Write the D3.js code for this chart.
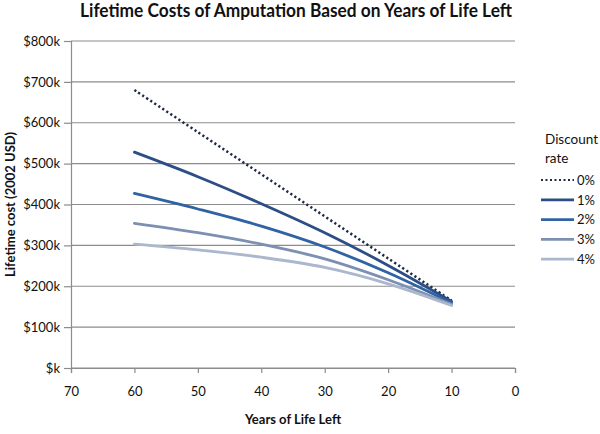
<!DOCTYPE html>
<html>
<head>
<meta charset="utf-8">
<script src="https://cdn.jsdelivr.net/npm/d3@7"></script>
<style>
  html, body { margin: 0; padding: 0; background: #fff; }
  svg { display: block; }
  text { font-family: Lato, "Open Sans", sans-serif; fill: #111; }
</style>
</head>
<body>
<svg id="chart" width="600" height="434"></svg>
<script>
// ---- data ----
const years = [60, 50, 40, 30, 20, 10];
const rate0 = [680, 577, 474, 371, 268, 165];
const rate1 = [528, 468, 402, 331, 251, 163];
const rate2 = [427, 389, 347, 296, 233, 159];
const rate3 = [354, 331, 303, 267, 216, 156];
const rate4 = [303, 289, 271, 246, 206, 153];
const seriesNames = ["0%", "1%", "2%", "3%", "4%"];
const xTicks = [70, 60, 50, 40, 30, 20, 10, 0];
const yTicks = [0, 100, 200, 300, 400, 500, 600, 700, 800];
const yTickLabels = ["$k", "$100k", "$200k", "$300k", "$400k", "$500k", "$600k", "$700k", "$800k"];

const seriesValues = [rate0, rate1, rate2, rate3, rate4];
const colors = ["#1c2a44", "#2c4d86", "#2f63a3", "#7d8fb2", "#aab7cd"];

const svg = d3.select("#chart");
const x = d3.scaleLinear().domain([70, 0]).range([71, 515]);
const y = d3.scaleLinear().domain([0, 800]).range([368, 41]);

// gridlines
svg.append("g").selectAll("line").data(yTicks).join("line")
  .attr("x1", x(70)).attr("x2", x(0))
  .attr("y1", d => y(d)).attr("y2", d => y(d))
  .attr("stroke", "#8c8c8c").attr("stroke-width", 1.2);

// y axis
const yAxis = d3.axisLeft(y).tickValues(yTicks)
  .tickFormat((d, i) => yTickLabels[i]).tickSize(7).tickPadding(4);
const gy = svg.append("g").attr("transform", `translate(${x(70)},0)`).call(yAxis);
gy.select(".domain").attr("stroke", "#8c8c8c").attr("stroke-width", 1.2);
gy.selectAll(".tick line").attr("stroke", "#8c8c8c").attr("stroke-width", 1.2);
gy.selectAll(".tick text").attr("font-size", 13).attr("fill", "#111")
  .attr("font-family", "Lato, sans-serif");

// x axis
const xAxis = d3.axisBottom(x).tickValues(xTicks).tickFormat(d3.format("d"))
  .tickSize(5).tickPadding(14);
const gx = svg.append("g").attr("transform", `translate(0,${y(0)})`).call(xAxis);
gx.select(".domain").attr("stroke", "#8c8c8c").attr("stroke-width", 1.2);
gx.selectAll(".tick line").attr("stroke", "#8c8c8c").attr("stroke-width", 1.2);
gx.selectAll(".tick text").attr("font-size", 13).attr("fill", "#111")
  .attr("font-family", "Lato, sans-serif");

// lines
const line = d3.line()
  .x((d, i) => x(years[i]))
  .y(d => y(d))
  .curve(d3.curveCatmullRom.alpha(0.5));

seriesValues.forEach((vals, s) => {
  const p = svg.append("path")
    .datum(vals)
    .attr("d", line)
    .attr("fill", "none")
    .attr("stroke", colors[s])
    .attr("stroke-width", s === 0 ? 2.5 : 2.8)
    .attr("stroke-linecap", s === 0 ? "butt" : "round");
  if (s === 0) p.attr("stroke-dasharray", "2.2,2.6");
});

// title
svg.append("text")
  .attr("x", 296).attr("y", 17)
  .attr("text-anchor", "middle")
  .attr("font-size", 18).attr("font-weight", "bold")
  .attr("textLength", 432).attr("lengthAdjust", "spacingAndGlyphs")
  .text("Lifetime Costs of Amputation Based on Years of Life Left");

// y axis title
svg.append("text")
  .attr("transform", `translate(15,${(y(0) + y(800)) / 2}) rotate(-90)`)
  .attr("text-anchor", "middle")
  .attr("font-size", 13).attr("font-weight", "bold")
  .text("Lifetime cost (2002 USD)");

// x axis title
svg.append("text")
  .attr("x", 293).attr("y", 424)
  .attr("text-anchor", "middle")
  .attr("font-size", 13).attr("font-weight", "bold")
  .text("Years of Life Left");

// legend
const lg = svg.append("g");
lg.append("text").attr("x", 545).attr("y", 144).attr("font-size", 13.5).text("Discount");
lg.append("text").attr("x", 545).attr("y", 163).attr("font-size", 13.5).text("rate");
seriesNames.forEach((name, s) => {
  const yy = 180 + s * 19.8;
  const l = lg.append("line")
    .attr("x1", 541).attr("x2", 574)
    .attr("y1", yy).attr("y2", yy)
    .attr("stroke", colors[s])
    .attr("stroke-width", s === 0 ? 2.2 : 2.8);
  if (s === 0) l.attr("stroke-dasharray", "2,2.5");
  lg.append("text").attr("x", 577).attr("y", yy + 4.7)
    .attr("font-size", 13).text(name);
});
</script>
</body>
</html>
